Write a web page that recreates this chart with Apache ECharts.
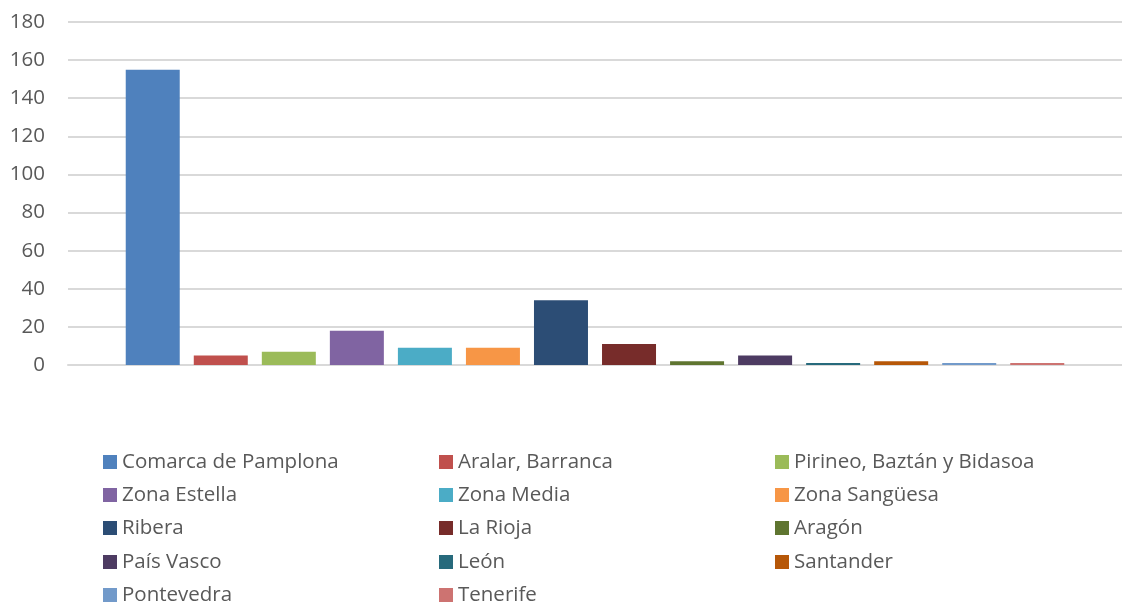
<!DOCTYPE html>
<html><head><meta charset="utf-8">
<script src="https://cdn.jsdelivr.net/npm/echarts@6/dist/echarts.min.js"></script>
<style>html,body{margin:0;padding:0;background:#fff}#c{width:1122px;height:605px}</style>
</head><body><div id="c"></div>
<script>
const seriesNames = ["Comarca de Pamplona","Aralar, Barranca","Pirineo, Baztán y Bidasoa","Zona Estella","Zona Media","Zona Sangüesa","Ribera","La Rioja","Aragón","País Vasco","León","Santander","Pontevedra","Tenerife"];
const values = [155,5,7,18,9,9,34,11,2,5,1,2,1,1];
const colors = ["#4F81BD","#C0504D","#9BBB59","#8064A2","#4BACC6","#F79646","#2C4D75","#772C2A","#5F7530","#4D3B62","#276A7C","#B65708","#729ACA","#CD7371"];
const yTicks = [0,20,40,60,80,100,120,140,160,180];

const chart = echarts.init(document.getElementById('c'));
const font = "Open Sans";
const rowCenters = [462, 495, 528, 562, 595];
const legendBase = {
  orient: 'horizontal', left: 103, padding: 0, itemWidth: 14, itemHeight: 14, itemGap: 0,
  icon: 'rect', width: 1019,
  textStyle: {fontFamily: font, fontSize: 20.5, color: '#595959', lineHeight: 22, width: 317}
};
const legends = rowCenters.map((c, r) => Object.assign({}, legendBase, {
  top: c - 11, data: seriesNames.slice(r * 3, r * 3 + 3)
}));
chart.setOption({
  animation: false,
  grid: {left: 68, right: 0, top: 22, bottom: 240},
  xAxis: {type: 'category', data: [''], axisLine: {show: true, lineStyle: {color: '#d9d9d9', width: 2}}, axisTick: {show: false}, axisLabel: {show: false}},
  yAxis: {type: 'value', min: yTicks[0], max: yTicks[yTicks.length-1], interval: 20,
    axisLine: {show: false}, axisTick: {show: false},
    axisLabel: {fontFamily: font, fontSize: 20.5, color: '#595959', margin: 23},
    splitLine: {lineStyle: {color: '#d9d9d9', width: 2}}},
  legend: legends,
  series: seriesNames.map((n, i) => ({
    name: n, type: 'bar', data: [values[i]], barWidth: 54, barGap: '26%',
    itemStyle: {color: colors[i]}
  }))
});
</script></body></html>
